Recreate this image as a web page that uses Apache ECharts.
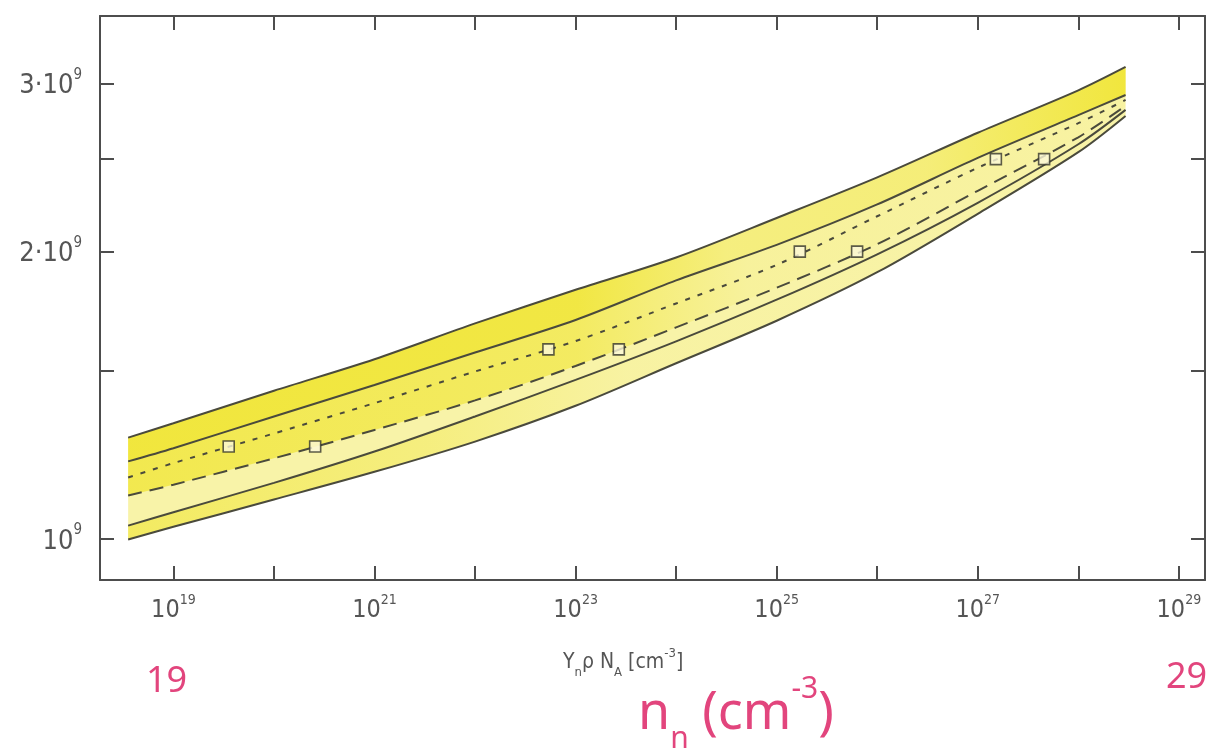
<!DOCTYPE html>
<html>
<head>
<meta charset="utf-8">
<title>n_n</title>
<script src="https://cdn.jsdelivr.net/npm/echarts@6/dist/echarts.min.js"></script>
<style>
  html, body { margin: 0; padding: 0; background: #fff; }
  #chart { width: 1220px; height: 754px; }
</style>
</head>
<body>
<div id="chart"></div>
<script>
// x = exponent of n (cm^-3), y = values in units of 10^9
var nExp = [18.55, 19, 20, 21, 22, 23, 24, 25, 26, 27, 28, 28.47];
var upperOuter = [1.277, 1.322, 1.430, 1.543, 1.682, 1.824, 1.972, 2.169, 2.392, 2.664, 2.951, 3.122];
var upperInner = [1.206, 1.245, 1.344, 1.450, 1.568, 1.696, 1.866, 2.033, 2.241, 2.507, 2.779, 2.918];
var dottedCurve = [1.160, 1.201, 1.290, 1.388, 1.498, 1.612, 1.765, 1.937, 2.178, 2.448, 2.726, 2.883];
var dashedCurve = [1.111, 1.140, 1.215, 1.301, 1.397, 1.518, 1.666, 1.833, 2.036, 2.316, 2.635, 2.842];
var lowerInner = [1.033, 1.067, 1.145, 1.235, 1.344, 1.468, 1.611, 1.781, 1.987, 2.250, 2.591, 2.815];
var lowerOuter = [0.999, 1.030, 1.100, 1.176, 1.265, 1.379, 1.528, 1.693, 1.903, 2.191, 2.542, 2.774];

// square markers
var dottedSquareExp = [19.55, 22.73, 25.23, 27.18];
var dashedSquareExp = [20.41, 23.43, 25.80, 27.66];
var squareValues = [1.25, 1.58, 2.0, 2.5];

// ticks
var xTicks = [19, 20, 21, 22, 23, 24, 25, 26, 27, 28, 29];
var xLabelTicks = [19, 21, 23, 25, 27, 29];
var yTicks = [1, 1.5, 2, 2.5, 3];
var yLabelTicks = [1, 2, 3];

var xMin = 18.27, xMax = 29.26;
var yMin = 0.906, yMax = 3.53;

var lineColor = '#4a4a3c';
var axisColor = '#4d4d4d';
var textColor = '#555';
var pink = '#e2457d';
var narrow = "'Liberation Sans Narrow', 'DejaVu Sans Condensed', 'Roboto Condensed', 'Arial Narrow', sans-serif";

var chart = echarts.init(document.getElementById('chart'), null, { renderer: 'canvas' });

function lg(v) { return Math.log10(v); }

function pairs(xs, ys) {
  var out = [];
  for (var i = 0; i < xs.length; i++) out.push([xs[i], lg(ys[i])]);
  return out;
}

// horizontal fade of the highlighter colour
function fade(stops) {
  return {
    type: 'linear', x: 0, y: 0, x2: 1, y2: 0,
    colorStops: stops.map(function (s) { return { offset: s[0], color: 'rgba(240,229,50,' + s[1] + ')' }; })
  };
}

// yellow highlighter band between two curves
function band(upper, lower, fill) {
  return {
    type: 'custom',
    silent: true,
    z: 1,
    data: [[nExp[0], lg(upper[0])]],
    renderItem: function (params, api) {
      var pts = [];
      for (var i = 0; i < nExp.length; i++) pts.push(api.coord([nExp[i], lg(upper[i])]));
      for (var j = nExp.length - 1; j >= 0; j--) pts.push(api.coord([nExp[j], lg(lower[j])]));
      return {
        type: 'polygon',
        shape: { points: pts, smooth: 0 },
        style: { fill: fill }
      };
    }
  };
}

function curve(ys, dash) {
  return {
    type: 'line',
    data: pairs(nExp, ys),
    showSymbol: false,
    smooth: 0.3,
    silent: true,
    z: 3,
    lineStyle: { color: lineColor, width: 2, type: dash || 'solid' }
  };
}

function squares(xs) {
  return {
    type: 'scatter',
    data: pairs(xs, squareValues),
    symbol: 'rect',
    symbolSize: 11,
    z: 5,
    itemStyle: { color: '#fbf8d8', borderColor: '#35352a', borderWidth: 1.6 }
  };
}

var tickStyle = { inside: true, length: 14, lineStyle: { color: axisColor, width: 2 } };
var frameLine = { show: true, onZero: false, lineStyle: { color: axisColor, width: 2 } };

var option = {
  animation: false,
  backgroundColor: '#fff',
  grid: { left: 100, right: 15, top: 16, bottom: 174 },
  xAxis: [
    {
      type: 'value', min: xMin, max: xMax, position: 'bottom',
      axisLine: frameLine,
      axisTick: Object.assign({ customValues: xTicks }, tickStyle),
      splitLine: { show: false },
      axisLabel: {
        customValues: xLabelTicks,
        margin: 13,
        formatter: function (v) { return '{b|10}{s|' + Math.round(v) + '}'; },
        rich: {
          b: { fontSize: 25, fontFamily: narrow, color: textColor, lineHeight: 30, verticalAlign: 'bottom' },
          s: { fontSize: 14, fontFamily: narrow, color: textColor, lineHeight: 30, verticalAlign: 'top' }
        }
      }
    },
    {
      type: 'value', min: xMin, max: xMax, position: 'top',
      axisLine: frameLine,
      axisTick: Object.assign({ customValues: xTicks }, tickStyle),
      splitLine: { show: false },
      axisLabel: { show: false }
    }
  ],
  yAxis: [
    {
      type: 'value', min: lg(yMin), max: lg(yMax), position: 'left',
      axisLine: frameLine,
      axisTick: Object.assign({ customValues: yTicks.map(lg) }, tickStyle),
      splitLine: { show: false },
      axisLabel: {
        customValues: yLabelTicks.map(lg),
        margin: 18,
        formatter: function (v) {
          var m = Math.round(Math.pow(10, v) * 10) / 10;
          return m === 1 ? '{b|10}{s|9}' : '{b|' + m + '·10}{s|9}';
        },
        rich: {
          b: { fontSize: 27, fontFamily: narrow, color: textColor, lineHeight: 32, verticalAlign: 'bottom' },
          s: { fontSize: 15, fontFamily: narrow, color: textColor, lineHeight: 32, verticalAlign: 'top' }
        }
      }
    },
    {
      type: 'value', min: lg(yMin), max: lg(yMax), position: 'right',
      axisLine: frameLine,
      axisTick: Object.assign({ customValues: yTicks.map(lg) }, tickStyle),
      splitLine: { show: false },
      axisLabel: { show: false }
    }
  ],
  graphic: [
    {
      type: 'text', left: 563, top: 647,
      style: {
        text: '{a|Y}{d|n}{a|ρ N}{d|A}{a| [cm}{u|-3}{a|]}',
        rich: {
          a: { fontSize: 21, fontFamily: narrow, fill: textColor, lineHeight: 32, verticalAlign: 'middle' },
          d: { fontSize: 13, fontFamily: narrow, fill: textColor, lineHeight: 32, verticalAlign: 'bottom' },
          u: { fontSize: 13, fontFamily: narrow, fill: textColor, lineHeight: 32, verticalAlign: 'top' }
        }
      }
    },
    {
      type: 'text', left: 146, top: 664,
      style: { text: '19', fontSize: 36, fontFamily: 'Noto Sans', fill: pink }
    },
    {
      type: 'text', left: 1166, top: 660,
      style: { text: '29', fontSize: 36, fontFamily: 'Noto Sans', fill: pink }
    },
    {
      type: 'text', left: 638, top: 674,
      style: {
        text: '{a|n}{d|n}{a| (cm}{u|-3}{a|)}',
        rich: {
          a: { fontSize: 52, fontFamily: 'Noto Sans', fill: pink, lineHeight: 80, verticalAlign: 'middle' },
          d: { fontSize: 30, fontFamily: 'Noto Sans', fill: pink, lineHeight: 80, verticalAlign: 'bottom' },
          u: { fontSize: 30, fontFamily: 'Noto Sans', fill: pink, lineHeight: 80, verticalAlign: 'top' }
        }
      }
    }
  ],
  series: [
    band(upperOuter, lowerOuter, '#f8f3a8'),
    band(upperOuter, upperInner, fade([[0, 0.9], [0.45, 0.85], [0.6, 0.35], [0.8, 0.4], [1, 0.9]])),
    band(upperInner, dashedCurve, fade([[0, 0.75], [0.45, 0.6], [0.62, 0.1], [1, 0.05]])),
    band(lowerInner, lowerOuter, fade([[0, 0.6], [0.3, 0.35], [0.5, 0.05], [1, 0]])),
    curve(upperOuter),
    curve(upperInner),
    curve(dottedCurve, [5, 8]),
    curve(dashedCurve, [14, 8]),
    curve(lowerInner),
    curve(lowerOuter),
    squares(dottedSquareExp),
    squares(dashedSquareExp)
  ]
};

chart.setOption(option);
window.addEventListener('resize', function () { chart.resize(); });
</script>
</body>
</html>
